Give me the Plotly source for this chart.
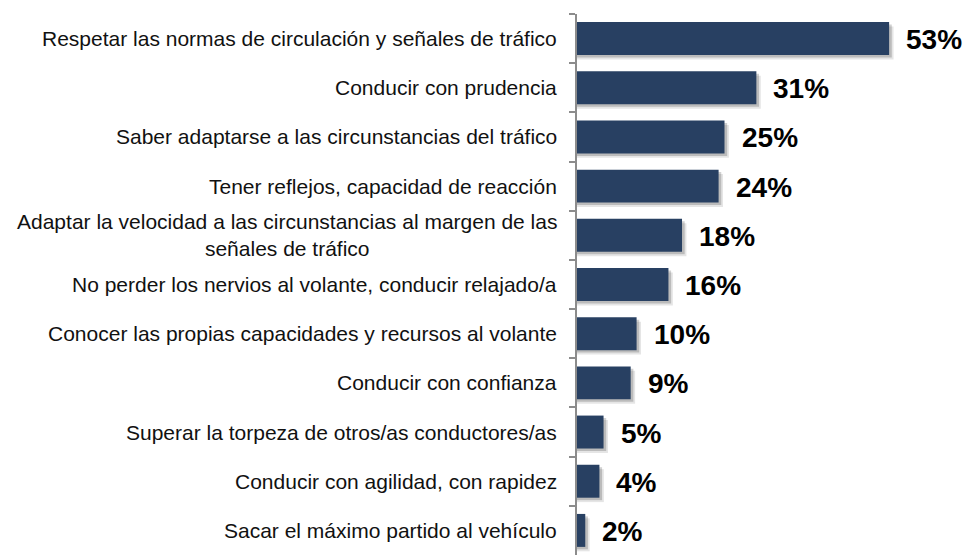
import plotly.graph_objects as go

categories = [
    "Respetar las normas de circulación y señales de tráfico",
    "Conducir con prudencia",
    "Saber adaptarse a las circunstancias del tráfico",
    "Tener reflejos, capacidad de reacción",
    "Adaptar la velocidad a las circunstancias al margen de las<br>señales de tráfico",
    "No perder los nervios al volante, conducir relajado/a",
    "Conocer las propias capacidades y recursos al volante",
    "Conducir con confianza",
    "Superar la torpeza de otros/as conductores/as",
    "Conducir con agilidad, con rapidez",
    "Sacar el máximo partido al vehículo",
]
values = [52.9, 30.4, 25.0, 24.0, 17.8, 15.5, 10.1, 9.1, 4.5, 3.8, 1.4]
value_labels = ["53%", "31%", "25%", "24%", "18%", "16%", "10%", "9%", "5%", "4%", "2%"]

BAR_COLOR = "#284062"
BAR_W = 0.67

fig = go.Figure()

# soft drop shadow (two layers)
for dx, dy, alpha in [(0.75, 0.09, 0.10), (0.45, 0.05, 0.18)]:
    fig.add_trace(go.Bar(
        x=[v + dx for v in values], y=categories, orientation="h",
        width=BAR_W, offset=-BAR_W / 2 + dy,
        marker=dict(color=f"rgba(0,0,0,{alpha})", line=dict(width=0)),
        hoverinfo="skip", showlegend=False,
    ))

fig.add_trace(go.Bar(
    x=values, y=categories, orientation="h",
    width=BAR_W, offset=-BAR_W / 2,
    marker=dict(color=BAR_COLOR, line=dict(width=0)),
    showlegend=False,
))

annotations = []
for c in categories:
    annotations.append(dict(
        x=0, xref="paper", y=c, yref="y", text=c, showarrow=False,
        xanchor="right", yanchor="middle", align="center", xshift=-18,
        font=dict(family="Liberation Sans, Arial, sans-serif", size=21, color="#111111"),
    ))
for c, v, t in zip(categories, values, value_labels):
    annotations.append(dict(
        x=v, xref="x", y=c, yref="y", text=f"<b>{t}</b>", showarrow=False,
        xanchor="left", yanchor="middle", xshift=15, yshift=-1,
        font=dict(family="Liberation Sans, Arial, sans-serif", size=28, color="#000000"),
    ))

fig.update_layout(
    width=968, height=555,
    margin=dict(l=577, r=37, t=14, b=0, pad=0),
    barmode="overlay",
    plot_bgcolor="white", paper_bgcolor="white",
    annotations=annotations,
    xaxis=dict(range=[0, 60], visible=False, fixedrange=True),
    yaxis=dict(
        autorange="reversed", type="category",
        showticklabels=False, tickson="boundaries",
        ticks="outside", ticklen=6, tickcolor="#8c8c8c", tickwidth=1.5,
        showline=True, linecolor="#8c8c8c", linewidth=1.5,
        showgrid=False, zeroline=False,
    ),
)

fig.write_html(
    "out.html",
    config={"displayModeBar": False},
    post_script="document.body.style.margin='0';document.body.style.overflow='hidden';",
)
